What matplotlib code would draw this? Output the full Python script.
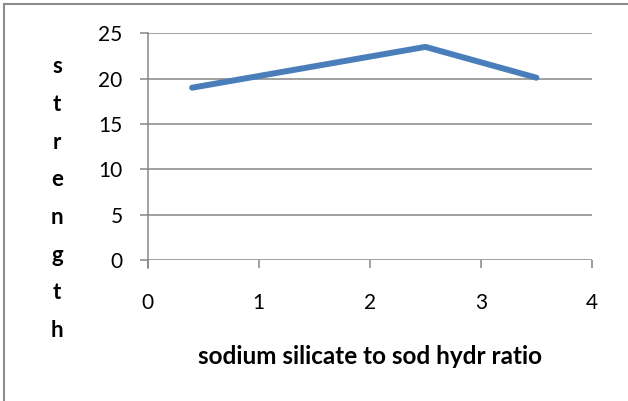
import matplotlib
matplotlib.use("Agg")
import matplotlib.pyplot as plt

ratio = [0.4, 2.5, 3.5]
strength = [19.0, 23.5, 20.1]
x_ticks = [0, 1, 2, 3, 4]
y_ticks = [0, 5, 10, 15, 20, 25]
x_label = "sodium silicate to sod hydr ratio"
y_label = "strength"

plt.rcParams["font.family"] = ["Lato", "DejaVu Sans"]
grey = "#868686"

fig = plt.figure(figsize=(6.28, 4.01), dpi=100)
ax = fig.add_axes([0.2352, 0.3516, 0.7075, 0.5654])

ax.plot(ratio, strength, color="#4A7EBB", linewidth=4.3, solid_capstyle="round")

ax.set_xlim(0, 4)
ax.set_ylim(0, 25)
ax.set_xticks(x_ticks)
ax.set_yticks(y_ticks)
ax.yaxis.grid(True, color=grey, linewidth=1.1)
ax.set_axisbelow(True)

for side in ["top", "right", "bottom"]:
    ax.spines[side].set_visible(False)
ax.spines["left"].set_color(grey)
ax.spines["left"].set_linewidth(1.1)
ax.spines["left"].set_bounds(-0.9, 25)

ax.tick_params(axis="y", length=6, width=1.1, color=grey, pad=12, labelsize=15)
ax.tick_params(axis="x", length=6, width=1.1, color=grey, pad=18, labelsize=15)

# x label placed at a fixed spot under the plot area
fig.text(370 / 628, 1 - 357 / 401, x_label, ha="center", va="center",
         fontsize=17.5, fontweight="bold")

# vertical stacked y label, one letter per line
for i, ch in enumerate(y_label):
    fig.text(57 / 628, 1 - (66.7 + i * 37.7) / 401, ch, ha="center", va="center",
             fontsize=16, fontweight="bold")

# outer chart frame (left and top edges visible)
fig.add_artist(plt.Line2D([4 / 628, 4 / 628], [0, 1 - 3.5 / 401], color="#8c8c8c", linewidth=1.5))
fig.add_artist(plt.Line2D([4 / 628, 1], [1 - 3.5 / 401, 1 - 3.5 / 401], color="#8c8c8c", linewidth=1.5))

fig.savefig("out.png", dpi=100)
